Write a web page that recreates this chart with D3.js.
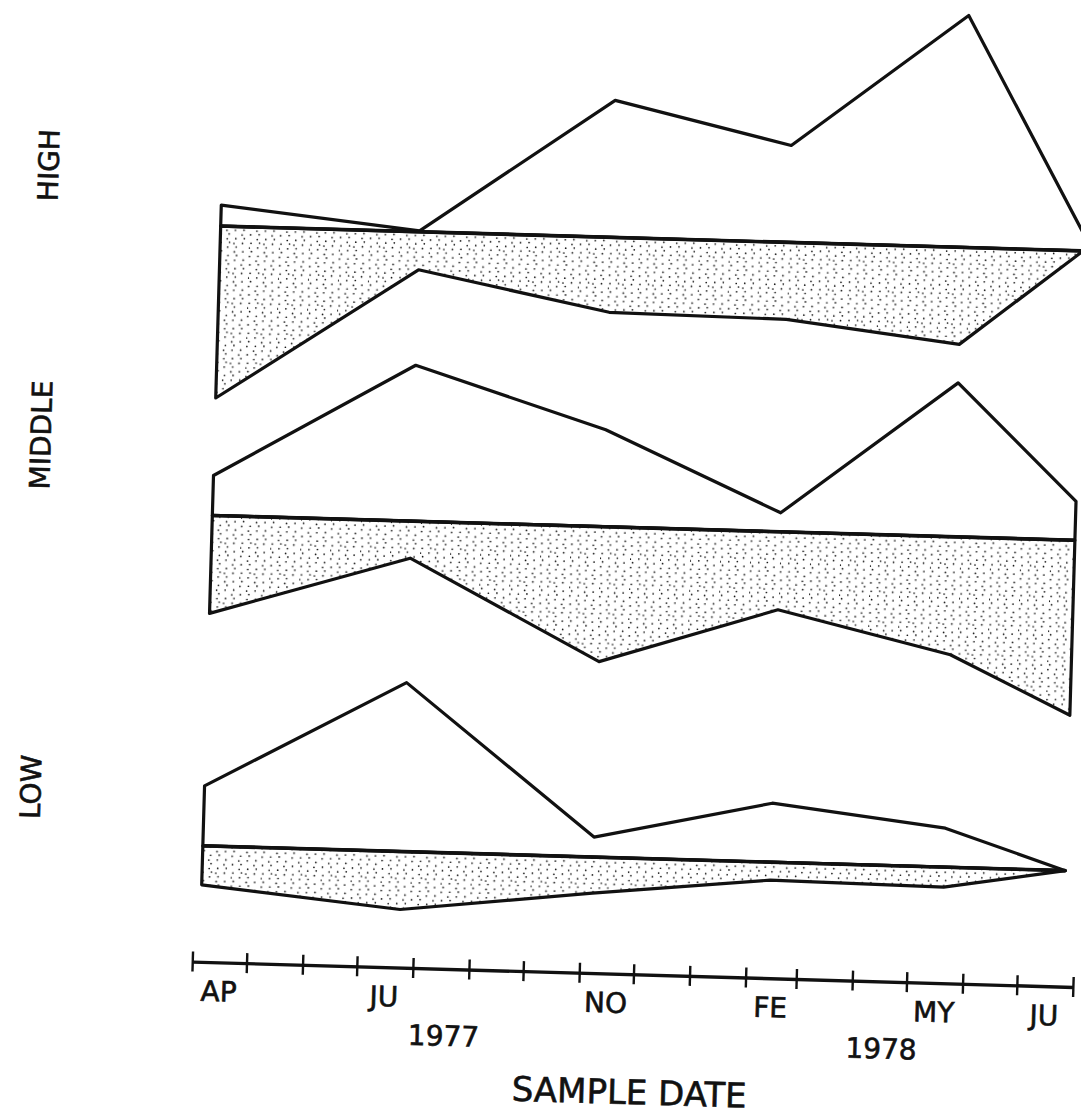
<!DOCTYPE html>
<html>
<head>
<meta charset="utf-8">
<script src="https://cdn.jsdelivr.net/npm/d3@7"></script>
<style>
  body { margin: 0; background: #fff; }
  text { font-family: "DejaVu Sans", sans-serif; fill: #111; stroke: #111; stroke-width: 0.6; }
</style>
</head>
<body>
<div id="container"></div>
<script>
/* DATA */
const sampleDates = ["1977-04-05", "1977-07-24", "1977-11-07", "1978-02-13", "1978-05-20", "1978-07-26"];
const panelNames = ["HIGH", "MIDDLE", "LOW"];

// heights above / below the zero line, per sample date
const highAbove   = [21, 1, 137, 97, 232, 17];
const highBelow   = [172, 38, 75, 77, 97, 0];
const middleAbove = [40, 156, 97, 19, 154, 39];
const middleBelow = [98, 37, 135, 78, 118, 175];
const lowAbove    = [60, 169, 20, 59, 39, 0];
const lowBelow    = [39, 58, 36, 18, 20, 0];

const monthLabels = ["AP", "JU", "NO", "FE", "MY", "JU"];
const monthLabelDates = ["1977-04-01", "1977-07-01", "1977-11-01", "1978-02-01", "1978-05-01", "1978-07-01"];
const yearLabels = ["1977", "1978"];
const yearLabelDates = ["1977-08-19", "1978-04-18"];
const axisTitle = "SAMPLE DATE";

/* CONSTANTS AND GLOBALS */
const width = 1081;
const height = 1118;
// the whole plot sits slightly tilted on the page
const tilt = 1.65, pivot = [630, 560];

const panelBase = [238, 527.5, 858];   // zero line of each panel
const panelLabelY = [182, 452, 804];
const panelLabelX = 38;
const axisY = 974;

const parse = d3.timeParse("%Y-%m-%d");
const dates = sampleDates.map(parse);

const panels = [
  { name: panelNames[0], above: highAbove, below: highBelow },
  { name: panelNames[1], above: middleAbove, below: middleBelow },
  { name: panelNames[2], above: lowAbove, below: lowBelow }
];

// x scale - time
const xScale = d3.scaleTime()
  .domain([parse("1977-04-01"), parse("1978-08-01")])
  .range([204, 1085]);

const svg = d3.select("#container")
  .append("svg")
  .attr("width", width)
  .attr("height", height);

// stipple fill
const defs = svg.append("defs");
const pat = defs.append("pattern")
  .attr("id", "stipple")
  .attr("patternUnits", "userSpaceOnUse")
  .attr("width", 30)
  .attr("height", 30);
pat.append("rect").attr("width", 30).attr("height", 30).attr("fill", "#fff");
pat.selectAll("circle")
  .data(d3.range(22))
  .join("circle")
  .attr("cx", i => ((0.5 + i * 0.7548776662) % 1) * 30)
  .attr("cy", i => ((0.5 + i * 0.5698402910) % 1) * 30)
  .attr("r", 0.85)
  .attr("fill", "#111");

const g = svg.append("g")
  .attr("transform", `rotate(${tilt},${pivot[0]},${pivot[1]})`);

panels.forEach((p, k) => {
  const yScale = d3.scaleLinear()
    .domain([-250, 250])
    .range([panelBase[k] + 250, panelBase[k] - 250]);

  const rows = dates.map((d, i) => ({ date: d, up: p.above[i], down: p.below[i] }));

  const upper = d3.area()
    .x(d => xScale(d.date))
    .y0(yScale(0))
    .y1(d => yScale(d.up));

  const lower = d3.area()
    .x(d => xScale(d.date))
    .y0(yScale(0))
    .y1(d => yScale(-d.down));

  g.append("path")
    .datum(rows)
    .attr("d", upper)
    .attr("fill", "#fff")
    .attr("stroke", "#111")
    .attr("stroke-width", 3.2)
    .attr("stroke-linejoin", "round");

  g.append("path")
    .datum(rows)
    .attr("d", lower)
    .attr("fill", "url(#stipple)")
    .attr("stroke", "#111")
    .attr("stroke-width", 3.2)
    .attr("stroke-linejoin", "round");

  // zero line
  g.append("line")
    .attr("x1", xScale(dates[0]))
    .attr("x2", xScale(dates[dates.length - 1]))
    .attr("y1", yScale(0))
    .attr("y2", yScale(0))
    .attr("stroke", "#111")
    .attr("stroke-width", 3.6);

  g.append("text")
    .attr("transform", `translate(${panelLabelX},${panelLabelY[k]}) rotate(-90)`)
    .attr("text-anchor", "middle")
    .attr("dominant-baseline", "central")
    .attr("font-size", 28)
    .text(p.name);
});

// x axis, ticks crossing the line
const xAxis = g.append("g")
  .attr("transform", `translate(0,${axisY})`)
  .call(d3.axisBottom(xScale)
    .ticks(d3.timeMonth.every(1))
    .tickSize(10)
    .tickSizeOuter(0)
    .tickFormat(""));
xAxis.select(".domain").attr("stroke", "#111").attr("stroke-width", 3.4);
xAxis.selectAll(".tick line").attr("y1", -10).attr("stroke", "#111").attr("stroke-width", 2.4);

// month labels centred in their month
g.selectAll("text.month")
  .data(monthLabels)
  .join("text")
  .attr("class", "month")
  .attr("x", (d, i) => {
    const m = parse(monthLabelDates[i]);
    return (xScale(m) + xScale(d3.timeMonth.offset(m, 1))) / 2;
  })
  .attr("y", axisY + 39)
  .attr("text-anchor", "middle")
  .attr("font-size", 28)
  .text(d => d);

g.selectAll("text.year")
  .data(yearLabels)
  .join("text")
  .attr("class", "year")
  .attr("x", (d, i) => xScale(parse(yearLabelDates[i])))
  .attr("y", axisY + 77)
  .attr("text-anchor", "middle")
  .attr("font-size", 28)
  .text(d => d);

g.append("text")
  .attr("x", d3.mean(xScale.range()))
  .attr("y", axisY + 130)
  .attr("text-anchor", "middle")
  .attr("font-size", 34)
  .text(axisTitle);
</script>
</body>
</html>
